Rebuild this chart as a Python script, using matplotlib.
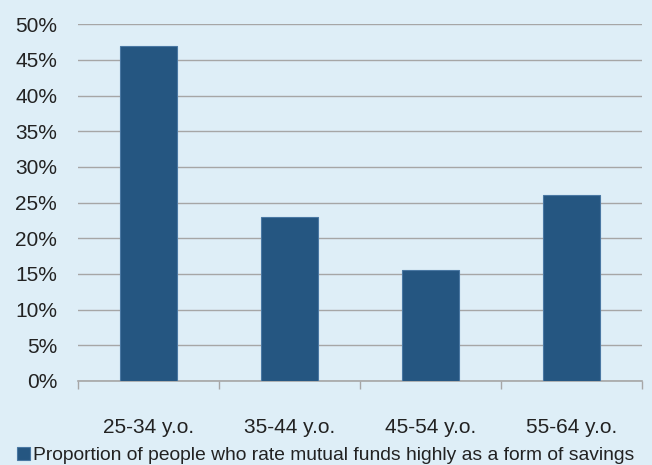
import numpy as np
import matplotlib.pyplot as plt
from matplotlib.ticker import FixedLocator, PercentFormatter

# data
age_groups = ['25-34 y.o.', '35-44 y.o.', '45-54 y.o.', '55-64 y.o.']
share = [46.9, 23.0, 15.5, 26.0]
series_name = 'Proportion of people who rate mutual funds highly as a form of savings'

bg = '#deeef7'
bar_col = '#255681'

plt.rcParams['font.family'] = ['Liberation Sans', 'DejaVu Sans']

fig = plt.figure(figsize=(6.52, 4.65), dpi=100, facecolor=bg)
ax = fig.add_axes([0.1196, 0.181, 0.865, 0.767])
ax.set_facecolor(bg)

x = np.arange(len(age_groups))
ax.bar(x, share, width=0.4, color=bar_col, edgecolor='#4a78a3', linewidth=0.8,
       zorder=3, label=series_name)

ax.set_ylim(0, 50)
ax.set_yticks(np.arange(0, 51, 5))
ax.yaxis.set_major_formatter(PercentFormatter(decimals=0))
ax.grid(axis='y', color='#a6a6a6', linewidth=1.0, zorder=0)

ax.set_xlim(-0.5, len(age_groups) - 0.5)
ax.set_xticks(x)
ax.set_xticklabels(age_groups)
ax.xaxis.set_minor_locator(FixedLocator(np.arange(-0.5, len(age_groups), 1.0)))
ax.tick_params(axis='x', which='major', length=0, pad=27, labelsize=15, colors='#222222')
ax.tick_params(axis='x', which='minor', length=6, width=1, color='#a6a6a6')
ax.tick_params(axis='y', length=0, pad=15, labelsize=15, colors='#222222')

for s in ['top', 'right', 'left']:
    ax.spines[s].set_visible(False)
ax.spines['bottom'].set_color('#a6a6a6')
ax.spines['bottom'].set_linewidth(1.2)

fig.legend(loc='lower left', bbox_to_anchor=(0.0, -0.035), frameon=False,
           handlelength=0.65, handleheight=0.65, handletextpad=0.15, fontsize=13.9,
           labelcolor='#222222')

fig.savefig('out.png', dpi=100, facecolor=bg)
